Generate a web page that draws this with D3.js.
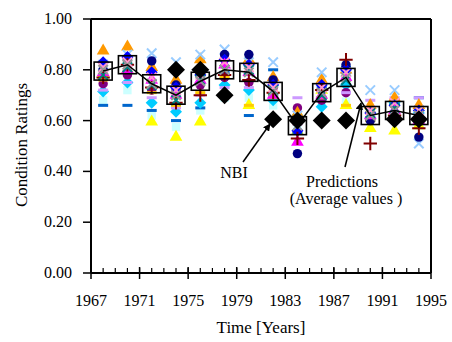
<!DOCTYPE html>
<html>
<head>
<meta charset="utf-8">
<script src="https://cdn.jsdelivr.net/npm/d3@7"></script>
<style>
  body { margin: 0; background: #fff; }
</style>
</head>
<body>
<div id="chart"></div>
<script>
// years of the prediction columns
const years = [1968, 1970, 1972, 1974, 1976, 1978, 1980, 1982, 1984, 1986, 1988, 1990, 1992, 1994];

// individual prediction series (one value per year)
const orangeTri  = [0.875, 0.89, 0.81, 0.76, 0.84, 0.85, 0.84, 0.77, 0.63, 0.76, 0.80, 0.66, 0.69, 0.66];
const lightX     = [0.82, 0.86, 0.865, 0.83, 0.86, 0.88, 0.83, 0.83, 0.62, 0.79, 0.78, 0.72, 0.72, 0.51];
const navyDot    = [0.80, 0.84, 0.835, 0.74, 0.80, 0.86, 0.86, 0.76, 0.47, 0.72, 0.82, 0.60, 0.60, 0.535];
const purpleDot  = [0.745, 0.78, 0.72, 0.72, 0.74, 0.77, 0.75, 0.73, 0.65, 0.68, 0.71, 0.63, 0.62, 0.60];
const skyDiamond = [0.715, 0.75, 0.67, 0.635, 0.67, 0.74, 0.72, 0.68, 0.62, 0.655, 0.74, 0.61, 0.67, 0.63];
const paleSquare = [0.68, 0.72, 0.62, 0.575, 0.64, 0.69, 0.69, 0.66, 0.57, 0.67, 0.675, 0.62, 0.61, 0.58];
const blueDash   = [0.66, 0.66, 0.64, 0.60, 0.65, 0.79, 0.62, 0.80, 0.55, 0.73, 0.81, 0.60, 0.66, 0.69];
const yellowTri  = [0.78, 0.80, 0.595, 0.535, 0.595, 0.79, 0.66, 0.72, 0.56, 0.72, 0.66, 0.57, 0.56, 0.58];
const magentaTri = [0.79, 0.80, 0.76, 0.70, 0.76, 0.82, 0.79, 0.70, 0.515, 0.70, 0.77, 0.62, 0.64, 0.60];
const tealX      = [0.78, 0.81, 0.74, 0.68, 0.76, 0.80, 0.80, 0.72, 0.60, 0.70, 0.76, 0.63, 0.65, 0.64];
const violetDash = [0.72, 0.75, 0.69, 0.65, 0.70, 0.73, 0.73, 0.70, 0.69, 0.69, 0.71, 0.68, 0.69, 0.69];
const blueDiamond= [0.83, 0.85, 0.79, 0.73, 0.78, 0.84, 0.82, 0.74, 0.56, 0.74, 0.80, 0.63, 0.66, 0.64];
const goldDash   = [0.76, 0.79, 0.71, 0.66, 0.71, 0.77, 0.66, 0.69, 0.60, 0.69, 0.66, 0.60, 0.62, 0.61];
const pinkX      = [0.81, 0.83, 0.77, 0.72, 0.78, 0.83, 0.81, 0.73, 0.60, 0.73, 0.79, 0.64, 0.67, 0.64];
const redPlus    = [0.77, 0.82, 0.73, 0.67, 0.70, 0.78, 0.76, 0.71, 0.53, 0.72, 0.84, 0.51, 0.62, 0.57];
const grayX      = [0.80, 0.82, 0.745, 0.70, 0.755, 0.80, 0.79, 0.715, 0.58, 0.71, 0.77, 0.62, 0.64, 0.62];

// average of predictions
const averages = [0.795, 0.82, 0.745, 0.70, 0.755, 0.80, 0.79, 0.715, 0.58, 0.71, 0.77, 0.62, 0.64, 0.62];

// NBI condition ratings
const nbiYears  = [1974, 1976, 1978, 1982, 1984, 1986, 1988, 1992, 1994];
const nbiValues = [0.80, 0.80, 0.70, 0.605, 0.60, 0.60, 0.60, 0.605, 0.605];

const xTicks = [1967, 1971, 1975, 1979, 1983, 1987, 1991, 1995];
const yTicks = [0, 0.2, 0.4, 0.6, 0.8, 1.0];

const series = [
  {values: paleSquare, shape: "square", color: "#ccffff"},
  {values: yellowTri, shape: "triangle", color: "#ffff00"},
  {values: blueDash, shape: "dash", color: "#0066cc"},
  {values: skyDiamond, shape: "diamond", color: "#00ccff"},
  {values: purpleDot, shape: "circle", color: "#800080"},
  {values: violetDash, shape: "dash", color: "#cc99ff"},
  {values: goldDash, shape: "dash", color: "#ffcc00"},
  {values: orangeTri, shape: "triangle", color: "#ff9900"},
  {values: lightX, shape: "x", color: "#99ccff"},
  {values: navyDot, shape: "circle", color: "#000080"},
  {values: blueDiamond, shape: "diamond", color: "#0000ff"},
  {values: magentaTri, shape: "triangle", color: "#ff00ff"},
  {values: redPlus, shape: "plus", color: "#800000"},
  {values: tealX, shape: "x", color: "#008080"},
  {values: pinkX, shape: "x", color: "#ff99cc"},
  {values: grayX, shape: "x", color: "#969696"}
];

const FONT = "'Liberation Serif', 'DejaVu Serif', serif";
const W = 452, H = 342;
const margin = {top: 19, right: 21, bottom: 69, left: 91};
const width = W - margin.left - margin.right;
const height = H - margin.top - margin.bottom;

const svg = d3.select("#chart").append("svg")
  .attr("width", W).attr("height", H)
  .attr("font-family", FONT);
const g = svg.append("g").attr("transform", `translate(${margin.left},${margin.top})`);

const x = d3.scaleLinear().domain([1967, 1995]).range([0, width]);
const y = d3.scaleLinear().domain([0, 1]).range([height, 0]);

// square diamond (equal width and height)
function diamond(r) {
  return `M0,${-r}L${r},0L0,${r}L${-r},0Z`;
}

// prediction markers
series.forEach(s => {
  s.values.forEach((v, i) => {
    if (v == null) return;
    const cx = x(years[i]), cy = y(v);
    if (s.shape === "dash") {
      g.append("rect").attr("x", cx - 5).attr("y", cy - 1.5)
        .attr("width", 10).attr("height", 3).attr("fill", s.color);
    } else if (s.shape === "x" || s.shape === "plus") {
      const sym = s.shape === "x" ? d3.symbolTimes : d3.symbolPlus;
      g.append("path").attr("transform", `translate(${cx},${cy})`)
        .attr("d", d3.symbol().type(sym).size(60)())
        .attr("fill", "none").attr("stroke", s.color).attr("stroke-width", 2);
    } else if (s.shape === "diamond") {
      g.append("path").attr("transform", `translate(${cx},${cy})`)
        .attr("d", diamond(6)).attr("fill", s.color);
    } else {
      const sym = {square: d3.symbolSquare, triangle: d3.symbolTriangle,
        circle: d3.symbolCircle}[s.shape];
      g.append("path").attr("transform", `translate(${cx},${cy})`)
        .attr("d", d3.symbol().type(sym).size(70)())
        .attr("fill", s.color);
    }
  });
});

// NBI diamonds
g.selectAll(".nbi").data(nbiValues).enter().append("path")
  .attr("class", "nbi")
  .attr("transform", (d, i) => `translate(${x(nbiYears[i])},${y(d)})`)
  .attr("d", diamond(9))
  .attr("fill", "#000");

// average line + squares
g.append("path").datum(averages)
  .attr("fill", "none").attr("stroke", "#000").attr("stroke-width", 1.5)
  .attr("d", d3.line().x((d, i) => x(years[i])).y(d => y(d)));

g.selectAll(".avg").data(averages).enter().append("rect")
  .attr("class", "avg")
  .attr("x", (d, i) => x(years[i]) - 9).attr("y", d => y(d) - 9)
  .attr("width", 18).attr("height", 18)
  .attr("fill", "none").attr("stroke", "#000").attr("stroke-width", 1.6);

// frame
g.append("line").attr("x1", 0).attr("x2", width).attr("y1", 0).attr("y2", 0)
  .attr("stroke", "#000").attr("stroke-width", 2);
g.append("line").attr("x1", width).attr("x2", width).attr("y1", 0).attr("y2", height)
  .attr("stroke", "#000").attr("stroke-width", 2);

// x axis: minor ticks inward, major ticks crossing
const xAxis = g.append("g").attr("transform", `translate(0,${height})`);
xAxis.append("line").attr("x1", 0).attr("x2", width).attr("stroke", "#000").attr("stroke-width", 2);
xAxis.selectAll(".minor").data(d3.range(1967, 1996)).enter().append("line")
  .attr("x1", d => x(d)).attr("x2", d => x(d)).attr("y1", 0).attr("y2", -5)
  .attr("stroke", "#000").attr("stroke-width", 1.2);
xAxis.selectAll(".major").data(xTicks).enter().append("line")
  .attr("x1", d => x(d)).attr("x2", d => x(d)).attr("y1", -6).attr("y2", 6)
  .attr("stroke", "#000").attr("stroke-width", 1.5);
xAxis.selectAll(".lbl").data(xTicks).enter().append("text")
  .attr("x", d => x(d)).attr("y", 33).attr("text-anchor", "middle")
  .attr("font-size", 16).text(d => d);

// y axis
const yAxis = g.append("g");
yAxis.append("line").attr("y1", 0).attr("y2", height).attr("stroke", "#000").attr("stroke-width", 2);
yAxis.selectAll(".yt").data(yTicks).enter().append("line")
  .attr("x1", -8).attr("x2", 0).attr("y1", d => y(d)).attr("y2", d => y(d))
  .attr("stroke", "#000").attr("stroke-width", 1.5);
yAxis.selectAll(".yl").data(yTicks).enter().append("text")
  .attr("x", -19).attr("y", d => y(d) + 5).attr("text-anchor", "end")
  .attr("font-size", 16).text(d => d.toFixed(2));

// axis titles
svg.append("text").attr("x", 261).attr("y", 333).attr("text-anchor", "middle")
  .attr("font-size", 17).text("Time [Years]");
svg.append("text").attr("transform", "translate(27,145) rotate(-90)")
  .attr("text-anchor", "middle").attr("font-size", 17).text("Condition Ratings");

// annotations
svg.append("defs").append("marker").attr("id", "ah")
  .attr("viewBox", "0 0 10 10").attr("refX", 9).attr("refY", 5)
  .attr("markerWidth", 5).attr("markerHeight", 5).attr("orient", "auto")
  .append("path").attr("d", "M0,0L10,5L0,10z").attr("fill", "#000");

svg.append("line").attr("x1", 243).attr("y1", 162).attr("x2", 270).attr("y2", 124)
  .attr("stroke", "#000").attr("stroke-width", 1.5).attr("marker-end", "url(#ah)");
svg.append("text").attr("x", 234).attr("y", 178).attr("text-anchor", "middle")
  .attr("font-size", 16).text("NBI");

svg.append("line").attr("x1", 345).attr("y1", 167).attr("x2", 361).attr("y2", 103)
  .attr("stroke", "#000").attr("stroke-width", 1.5).attr("marker-end", "url(#ah)");
svg.append("text").attr("x", 342).attr("y", 187).attr("text-anchor", "middle")
  .attr("font-size", 16).text("Predictions");
svg.append("text").attr("x", 346).attr("y", 204).attr("text-anchor", "middle")
  .attr("font-size", 16).text("(Average values )");
</script>
</body>
</html>
